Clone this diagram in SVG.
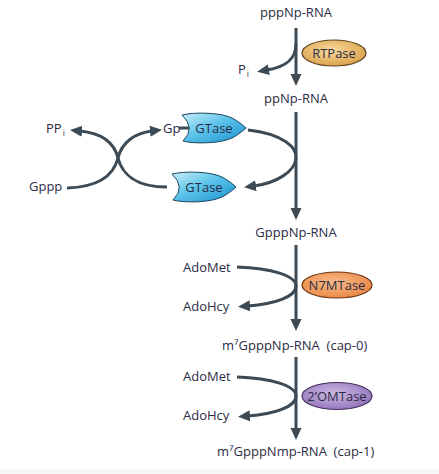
<svg xmlns="http://www.w3.org/2000/svg" xmlns:xlink="http://www.w3.org/1999/xlink" width="439" height="474" viewBox="0 0 439 474">
<style>
text{font-family:"Open Sans","DejaVu Sans",sans-serif;font-size:13px;fill:#2b2c46}
.mid{text-anchor:middle}
.sub{font-size:8.5px}
.conn{fill:none;stroke:#3c4a55;stroke-width:3}
.arr{marker-end:url(#ah)}
.gt{stroke:#1d4663;stroke-width:1;fill:url(#gGT)}
</style>
<defs>
<marker id="ah" markerUnits="userSpaceOnUse" markerWidth="13" markerHeight="12" refX="2" refY="5.5" orient="auto">
<path d="M0,0 L12,5.5 L0,11 Z" fill="#3c4a55"/>
</marker>
<linearGradient id="gGT" x1="0" y1="0" x2="1" y2="1">
<stop offset="0" stop-color="#c9eef9"/>
<stop offset="0.45" stop-color="#5cc4ea"/>
<stop offset="1" stop-color="#1a8fcb"/>
</linearGradient>
<radialGradient id="gRT" cx="0.45" cy="0.4" r="0.6">
<stop offset="0" stop-color="#f9dc9e"/>
<stop offset="1" stop-color="#dba24e"/>
</radialGradient>
<radialGradient id="gN7" cx="0.45" cy="0.4" r="0.6">
<stop offset="0" stop-color="#f9bb8a"/>
<stop offset="1" stop-color="#ea8a48"/>
</radialGradient>
<radialGradient id="gOM" cx="0.45" cy="0.4" r="0.6">
<stop offset="0" stop-color="#cdb8e2"/>
<stop offset="1" stop-color="#9577bd"/>
</radialGradient>
<path id="gtShape" d="M0,0 C12,-3 40,-3 52,4 Q60,9 64,13 Q60,17 52,22 C40,29 12,29 1,26 Q14,13 0,0 Z"/>
</defs>
<rect width="439" height="474" fill="#ffffff"/>
<rect y="469" width="439" height="5" fill="#f4f6f7"/>

<g id="connectors">
<path class="conn arr" d="M296,28 V76"/>
<path class="conn arr" d="M296,44 C296,60 285,67 267,70"/>
<path class="conn arr" d="M296,112 V210"/>
<path class="conn arr" d="M248,130 C284,134 297,148 296,158 C295,172 276,183 254,186"/>
<path class="conn arr" d="M67,188 C100,187 114,174 118,158 C122,142 135,133 152,131"/>
<path class="conn arr" d="M167,187 C136,187 122,174 118,158 C114,142 101,133 80,131"/>
<path class="conn" d="M179,128 H190" stroke-width="1.2"/>
<path class="conn arr" d="M296,245 V321"/>
<path class="conn arr" d="M237,267 C272,268 296,276 296,286 C296,297 274,304 248,306"/>
<path class="conn arr" d="M296,357 V430"/>
<path class="conn arr" d="M237,377 C272,378 296,386 296,396 C296,407 274,414 248,416"/>
</g>

<g id="pppNp-RNA"><text class="mid" x="296" y="17">pppNp-RNA</text></g>
<g id="RTPase">
<ellipse cx="334" cy="53" rx="32" ry="13" fill="url(#gRT)" stroke="#5e4220" stroke-width="1.2"/>
<text class="mid" x="334" y="57.5">RTPase</text>
</g>
<g id="Pi"><text x="238" y="74">P<tspan class="sub" dx="1" dy="3">i</tspan></text></g>
<g id="ppNp-RNA"><text class="mid" x="296" y="103">ppNp-RNA</text></g>
<g id="PPi"><text x="46" y="133">PP<tspan class="sub" dx="1" dy="3">i</tspan></text></g>
<g id="Gppp"><text x="29" y="191">Gppp</text></g>
<g id="Gp-GTase">
<text x="163" y="133">Gp</text>
<use xlink:href="#gtShape" class="gt" transform="translate(182,115)"/>
<text class="mid" x="214" y="133">GTase</text>
</g>
<g id="GTase">
<use xlink:href="#gtShape" class="gt" transform="translate(172,174)"/>
<text class="mid" x="204" y="192">GTase</text>
</g>
<g id="GpppNp-RNA"><text class="mid" x="296" y="237">GpppNp-RNA</text></g>
<g id="AdoMet1"><text x="183" y="272">AdoMet</text></g>
<g id="AdoHcy1"><text x="183" y="311">AdoHcy</text></g>
<g id="N7MTase">
<ellipse cx="337" cy="285" rx="35" ry="13" fill="url(#gN7)" stroke="#6e3512" stroke-width="1.2"/>
<text class="mid" x="337" y="289.5">N7MTase</text>
</g>
<g id="cap-0"><text x="222" y="350" xml:space="preserve">m⁷GpppNp-RNA  (cap-0)</text></g>
<g id="AdoMet2"><text x="183" y="381">AdoMet</text></g>
<g id="AdoHcy2"><text x="183" y="420">AdoHcy</text></g>
<g id="OMTase">
<ellipse cx="337" cy="396" rx="35" ry="13.5" fill="url(#gOM)" stroke="#45305f" stroke-width="1.2"/>
<text class="mid" x="337" y="400.5">2’OMTase</text>
</g>
<g id="cap-1"><text x="217" y="456" xml:space="preserve">m⁷GpppNmp-RNA  (cap-1)</text></g>
</svg>
